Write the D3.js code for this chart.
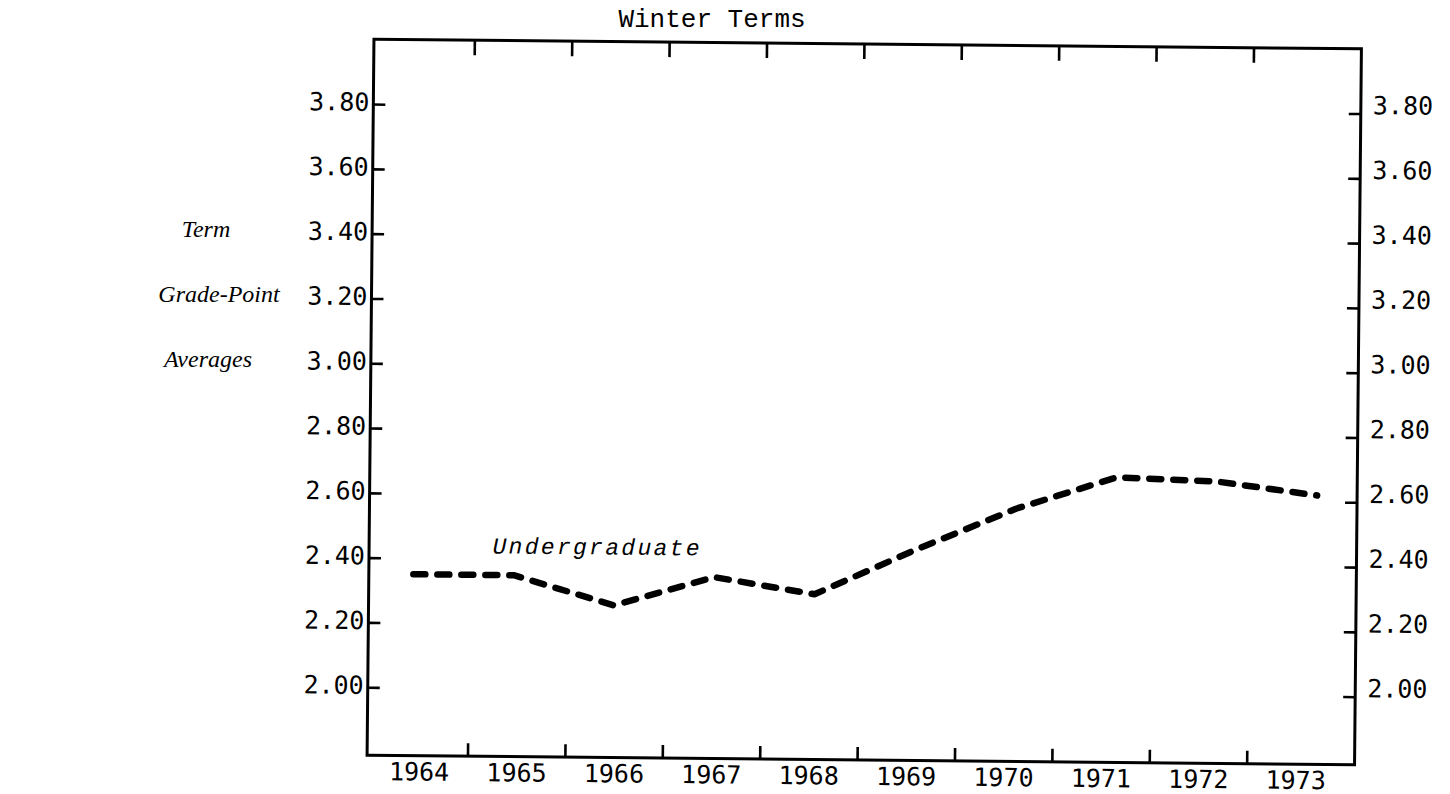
<!DOCTYPE html>
<html>
<head>
<meta charset="utf-8">
<script src="https://cdn.jsdelivr.net/npm/d3@7/dist/d3.min.js"></script>
<style>
  html, body { margin: 0; padding: 0; background: #fff; }
  svg { display: block; }
</style>
</head>
<body>
<svg id="chart" width="1450" height="794"></svg>
<script>
// Winter-term undergraduate grade-point averages, 1964–1973
const years = ["1964", "1965", "1966", "1967", "1968", "1969", "1970", "1971", "1972", "1973"];
const undergradGPA = [2.35, 2.35, 2.26, 2.35, 2.30, 2.44, 2.57, 2.67, 2.66, 2.62];
const gpaTicks = [2.00, 2.20, 2.40, 2.60, 2.80, 3.00, 3.20, 3.40, 3.60, 3.80];
const gpaTickLabels = ["2.00", "2.20", "2.40", "2.60", "2.80", "3.00", "3.20", "3.40", "3.60", "3.80"];
const titleText = "Winter Terms";
const yTitleLines = ["Term", "Grade-Point", "Averages"];
const seriesLabel = "Undergraduate";

const svg = d3.select("#chart");

const frame = { left: 370.5, right: 1358, top: 44, bottom: 760 };

const x = d3.scaleBand().domain(years).range([374, 1348]).padding(0);
const xLine = d3.scalePoint().domain(years).range([415, 1318]);
const y = d3.scaleLinear().domain([1.79, 4.0]).range([frame.bottom, frame.top]);

const numFont = "'DejaVu Sans Mono', monospace";
const typeFont = "'Liberation Mono', 'Courier New', monospace";
const italicFont = "'Liberation Serif', 'Times New Roman', serif";

// the plotted page sits very slightly askew
const g = svg.append("g")
  .attr("transform", `rotate(0.55, ${(frame.left + frame.right) / 2}, ${(frame.top + frame.bottom) / 2})`);

// value axes on both sides, ticks pointing inward
const labelOf = d => gpaTickLabels[gpaTicks.indexOf(d)];
const leftAxis = g.append("g")
  .attr("transform", `translate(${frame.left},0)`)
  .call(d3.axisLeft(y).tickValues(gpaTicks).tickFormat(labelOf)
    .tickSizeInner(-12).tickSizeOuter(0).tickPadding(4));

const rightAxis = g.append("g")
  .attr("transform", `translate(${frame.right},0)`)
  .call(d3.axisRight(y).tickValues(gpaTicks).tickFormat(labelOf)
    .tickSizeInner(-12).tickSizeOuter(0).tickPadding(12));

[leftAxis, rightAxis].forEach(ax => {
  ax.select(".domain").remove();
  ax.selectAll(".tick line").attr("stroke", "#000").attr("stroke-width", 2.6);
  ax.selectAll(".tick text")
    .attr("fill", "#000")
    .style("font-family", numFont)
    .style("font-size", "25px");
});
leftAxis.selectAll(".tick text").attr("dy", "0.25em");
rightAxis.selectAll(".tick text").attr("dy", "0");

// year labels centred in their bands
const bottomAxis = g.append("g")
  .attr("transform", `translate(0,${frame.bottom})`)
  .call(d3.axisBottom(x).tickSize(0).tickPadding(7));
bottomAxis.select(".domain").remove();
bottomAxis.selectAll(".tick text")
  .attr("fill", "#000")
  .style("font-family", numFont)
  .style("font-size", "25px");

// year boundary ticks on top and bottom edges
const boundaries = years.slice(1);
g.append("g").selectAll("line").data(boundaries).join("line")
  .attr("x1", d => x(d)).attr("x2", d => x(d))
  .attr("y1", frame.bottom).attr("y2", frame.bottom - 13)
  .attr("stroke", "#000").attr("stroke-width", 2.6);
g.append("g").selectAll("line").data(boundaries).join("line")
  .attr("x1", d => x(d)).attr("x2", d => x(d))
  .attr("y1", frame.top).attr("y2", frame.top + 15)
  .attr("stroke", "#000").attr("stroke-width", 2.6);

// frame
g.append("rect")
  .attr("x", frame.left).attr("y", frame.top)
  .attr("width", frame.right - frame.left).attr("height", frame.bottom - frame.top)
  .attr("fill", "none").attr("stroke", "#000").attr("stroke-width", 3);

// undergraduate series, heavy dashed line
const line = d3.line()
  .x((d, i) => xLine(years[i]))
  .y(d => y(d));
g.append("path")
  .datum(undergradGPA)
  .attr("d", line)
  .attr("fill", "none")
  .attr("stroke", "#000")
  .attr("stroke-width", 6.5)
  .attr("stroke-linecap", "round")
  .attr("stroke-linejoin", "round")
  .attr("stroke-dasharray", "12,12");

g.append("text")
  .attr("x", 494).attr("y", 557)
  .attr("textLength", 207).attr("lengthAdjust", "spacing")
  .style("font-family", typeFont)
  .style("font-style", "italic")
  .style("font-size", "23px")
  .attr("fill", "#000")
  .text(seriesLabel);

// title
svg.append("text")
  .attr("x", 712).attr("y", 27)
  .attr("text-anchor", "middle")
  .style("font-family", typeFont)
  .style("font-size", "26px")
  .attr("fill", "#000")
  .text(titleText);

// value-axis title, three stacked italic lines
const titleRows = [
  { text: yTitleLines[0], v: 3.40, cx: 206 },
  { text: yTitleLines[1], v: 3.20, cx: 219 },
  { text: yTitleLines[2], v: 3.00, cx: 208 }
];
svg.append("g").selectAll("text").data(titleRows).join("text")
  .attr("x", d => d.cx)
  .attr("y", d => y(d.v) - 1)
  .attr("text-anchor", "middle")
  .style("font-family", italicFont)
  .style("font-style", "italic")
  .style("font-size", "24px")
  .attr("fill", "#000")
  .text(d => d.text);
</script>
</body>
</html>
